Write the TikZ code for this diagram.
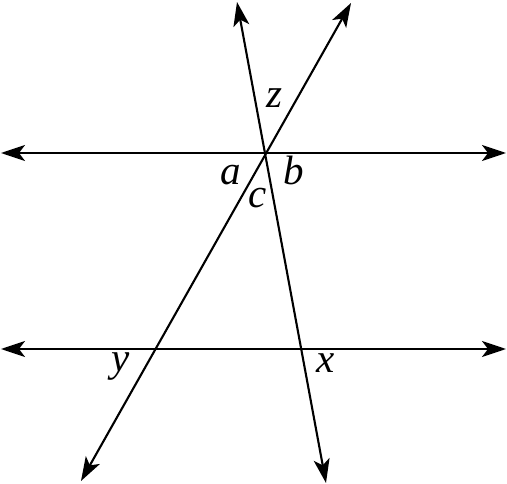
\documentclass[tikz,border=0pt]{standalone}
\usepackage{fontspec}
\setmainfont{Liberation Serif}
\usetikzlibrary{arrows.meta}
\begin{document}
\begin{tikzpicture}[x=1pt,y=-1pt,
  ln/.style={line width=2.1pt,{Stealth[length=24pt,width=16pt,inset=6pt]}-{Stealth[length=24pt,width=16pt,inset=6pt]}},
  lbl/.style={anchor=base,inner sep=0pt,font=\fontsize{41}{43}\selectfont\itshape}]
\useasboundingbox (0,0) rectangle (507,484);
\coordinate (h1l) at (1,153);
\coordinate (h1r) at (506,153);
\coordinate (h2l) at (1,349);
\coordinate (h2r) at (506,349);
\coordinate (s1t) at (237,2);
\coordinate (s1b) at (326,483);
\coordinate (s2t) at (351,3);
\coordinate (s2b) at (81,481);
\draw[ln] (h1l) -- (h1r);
\draw[ln] (h2l) -- (h2r);
\draw[ln] (s1t) -- (s1b);
\draw[ln] (s2t) -- (s2b);
\node[lbl] (z) at (274,108) {z};
\node[lbl] (a) at (231,185) {a};
\node[lbl] (b) at (294,185) {b};
\node[lbl] (c) at (258,208) {c};
\node[lbl] (y) at (121,372) {y};
\node[lbl] (x) at (326,373) {x};
\end{tikzpicture}
\end{document}
